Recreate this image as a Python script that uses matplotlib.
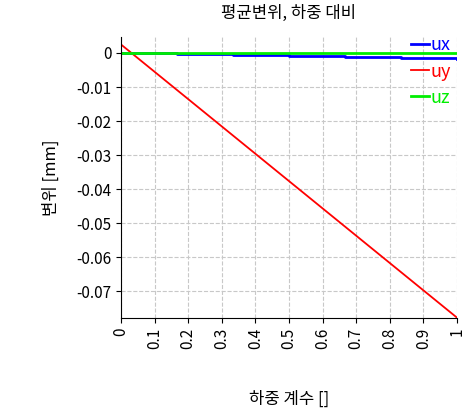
import matplotlib.pyplot as plt

plt.rcParams['font.family'] = ['Noto Sans CJK KR', 'DejaVu Sans']

# load factor and mean displacement (mm)
load = [0.0, 0.167, 0.333, 0.5, 0.667, 0.833, 1.0]
ux = [0.0, -0.0003, -0.0006, -0.0009, -0.0012, -0.0015, -0.0018]
uy_load = [0.0, 1.0]
uy = [0.0025, -0.0778]
uz_load = [0.0, 1.0]
uz = [0.0, 0.0]

fig = plt.figure(figsize=(4.72, 4.13), dpi=100)
ax = fig.add_axes([121 / 472, 1 - 318 / 413, 336 / 472, 281 / 413])

ax.plot(load, ux, color='blue', lw=2, drawstyle='steps-post', label='ux')
ax.plot(uy_load, uy, color='red', lw=1.3, label='uy')
ax.plot(uz_load, uz, color='#00ee00', lw=2, label='uz')

ax.set_xlim(0, 1)
ax.set_ylim(-0.0779, 0.0047)
ax.set_xticks([i / 10 for i in range(11)])
ax.set_xticklabels(['0'] + ['%.1f' % (i / 10) for i in range(1, 10)] + ['1'],
                   rotation=90, fontsize=11)
ax.set_yticks([0, -0.01, -0.02, -0.03, -0.04, -0.05, -0.06, -0.07])
ax.set_yticklabels(['0', '-0.01', '-0.02', '-0.03', '-0.04', '-0.05', '-0.06', '-0.07'],
                   fontsize=11)
ax.grid(True, ls='--', color='#c8c8c8', lw=0.8)
for s in ['top', 'right']:
    ax.spines[s].set_visible(False)

ax.set_title('평균변위, 하중 대비', fontsize=12, pad=14)
ax.set_xlabel('하중 계수 []', fontsize=12, labelpad=30)
ax.set_ylabel('변위 [mm]', fontsize=12, labelpad=12)

leg = ax.legend(loc='upper right', bbox_to_anchor=(1.03, 1.06), frameon=False,
                handlelength=1.0, handletextpad=0.1, labelspacing=0.45, fontsize=13)
for t, c in zip(leg.get_texts(), ['blue', 'red', '#00ee00']):
    t.set_color(c)

fig.savefig('out.png')
